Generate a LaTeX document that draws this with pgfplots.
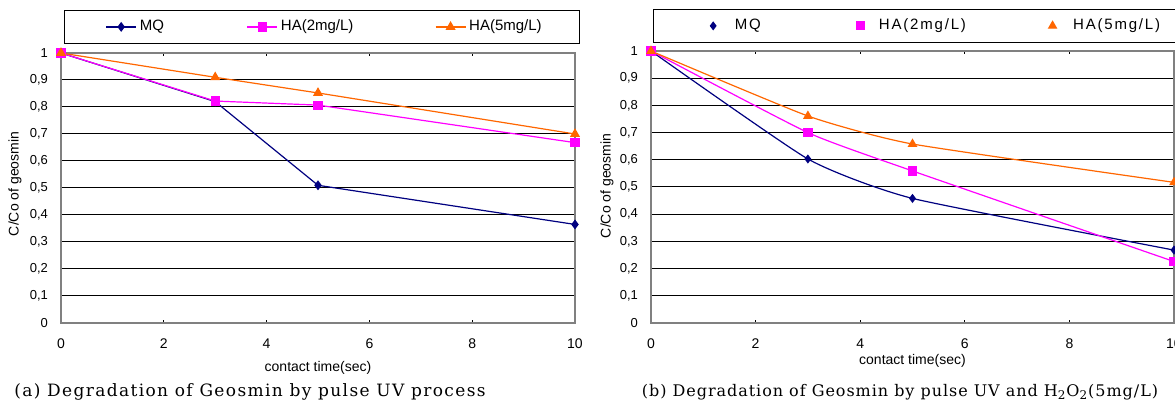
\documentclass[border=0pt]{standalone}
\usepackage{fontspec}
\setmainfont{Liberation Sans}
\newfontfamily\capfont[LetterSpace=8]{DejaVu Serif}
\newfontfamily\capfontb[LetterSpace=6]{DejaVu Serif}
\newfontfamily\wideleg[LetterSpace=12]{Liberation Sans}
\usepackage{pgfplots}
\pgfplotsset{compat=1.18}

\definecolor{mq}{RGB}{0,0,128}
\definecolor{hatwo}{RGB}{255,0,255}
\definecolor{hafive}{RGB}{255,102,0}

\pgfplotsset{
  geo/.style={
    scale only axis,
    xmin=0, xmax=10, ymin=0, ymax=1,
    xtick={0,2,4,6,8,10},
    ytick={0,0.1,0.2,0.3,0.4,0.5,0.6,0.7,0.8,0.9,1},
    ymajorgrids,
    major grid style={black, line width=0.5pt},
    axis line style={gray, line width=0.7pt},
    tick align=inside, major tick length=1.5pt,
    xtick style={black, line width=0.5pt},
    ytick style={draw=none},
    /pgf/number format/assume math mode=true,
    tick label style={font=\fontsize{6.5}{7}\selectfont},
    xticklabel style={yshift=-4.5pt, font=\fontsize{7}{8}\selectfont},
    yticklabel style={xshift=-3pt, /pgf/number format/use comma, /pgf/number format/fixed},
    label style={font=\fontsize{7}{8}\selectfont},
    legend columns=3,
    legend cell align=left,
    legend style={draw=black, line width=0.6pt, fill=white,
      inner xsep=0pt, inner ysep=0pt, column sep=0pt,
      font=\fontsize{7.5}{9}\selectfont,
      nodes={inner sep=0pt, minimum height=16.5pt, anchor=west}},
  },
  % legend samples: line with a mark in the middle
  linelegfirst/.style={legend image code/.code={\path (-20.5pt,0pt) (16.5pt,0pt);
    \draw[mark repeat=2,mark phase=2,##1] plot coordinates {(0pt,0pt) (7.5pt,0pt) (15pt,0pt)};}},
  lineleg/.style={legend image code/.code={\path (0pt,0pt) (16.5pt,0pt);
    \draw[mark repeat=2,mark phase=2,##1] plot coordinates {(0pt,0pt) (7.5pt,0pt) (15pt,0pt)};}},
  % legend samples: mark only, with room left and right
  markleg/.style 2 args={legend image code/.code={\path (-#1,0pt) (#2,0pt);
    \draw[##1] plot[only marks] coordinates {(0pt,0pt)};}},
}

\begin{document}
\begin{tikzpicture}
\path[use as bounding box] (0,0) rectangle (587.5pt,202.5pt);
\clip (0,0) rectangle (587.5pt,202.5pt);

% (a) pulse UV
\begin{axis}[geo,
  at={(30.5pt,41pt)}, anchor=south west,
  width=257pt, height=135pt,
  xlabel={contact time(sec)}, ylabel={C/Co of geosmin},
  every axis x label/.append style={at={(axis description cs:0.5,-0.167)}, anchor=center},
  every axis y label/.append style={at={(axis description cs:-0.0895,0.515)}, anchor=center},
  legend style={at={(axis description cs:0.0058,1.0333)}, anchor=south west},
]
\addplot[mq, line width=0.6pt, mark=diamond*, mark size=2pt, linelegfirst]
  coordinates {(0,1) (3,0.82) (5,0.51) (10,0.365)};
\addlegendentry{\makebox[53.5pt][l]{MQ}}
\addplot[hatwo, line width=0.6pt, mark=square*, mark size=2pt, lineleg]
  coordinates {(0,1) (3,0.822) (5,0.807) (10,0.668)};
\addlegendentry{\makebox[77pt][l]{HA(2mg/L)}}
\addplot[hafive, line width=0.6pt, mark=triangle*, mark size=2.3pt, lineleg]
  coordinates {(0,1) (3,0.91) (5,0.852) (10,0.70)};
\addlegendentry{\makebox[55pt][l]{HA(5mg/L)}}
\end{axis}

% (b) pulse UV + H2O2
\begin{axis}[geo,
  at={(325.5pt,41pt)}, anchor=south west,
  width=261.5pt, height=136pt,
  xlabel={contact time(sec)}, ylabel={C/Co of geosmin},
  every axis x label/.append style={at={(axis description cs:0.5,-0.14)}, anchor=center},
  every axis y label/.append style={at={(axis description cs:-0.0841,0.504)}, anchor=center},
  legend style={at={(axis description cs:0.0038,1.0294)}, anchor=south west},
]
\addplot[mq, line width=0.6pt, smooth, tension=0.3, mark=diamond*, mark size=1.8pt, markleg={29.5pt}{10.5pt}]
  coordinates {(0,1) (3,0.603) (5,0.458) (10,0.268)};
\addlegendentry{\makebox[57.5pt][l]{\wideleg MQ}}
\addplot[hatwo, line width=0.6pt, smooth, tension=0.3, mark=square*, mark size=2pt, markleg={5pt}{9pt}]
  coordinates {(0,1) (3,0.70) (5,0.559) (10,0.226)};
\addlegendentry{\makebox[81.5pt][l]{\wideleg HA(2mg/L)}}
\addplot[hafive, line width=0.6pt, smooth, tension=0.3, mark=triangle*, mark size=2.2pt, markleg={5pt}{10pt}]
  coordinates {(0,1) (3,0.761) (5,0.658) (10,0.517)};
\addlegendentry{\makebox[58pt][l]{\wideleg HA(5mg/L)}}
\end{axis}

\node[font=\capfont\fontsize{8.5}{9}\selectfont] at (125pt,6.5pt)
  {(a) Degradation of Geosmin by pulse UV process};
\node[font=\capfontb\fontsize{8}{9}\selectfont] at (450pt,6.5pt)
  {(b) Degradation of Geosmin by pulse UV and H\textsubscript{2}O\textsubscript{2}(5mg/L)};
\end{tikzpicture}
\end{document}
